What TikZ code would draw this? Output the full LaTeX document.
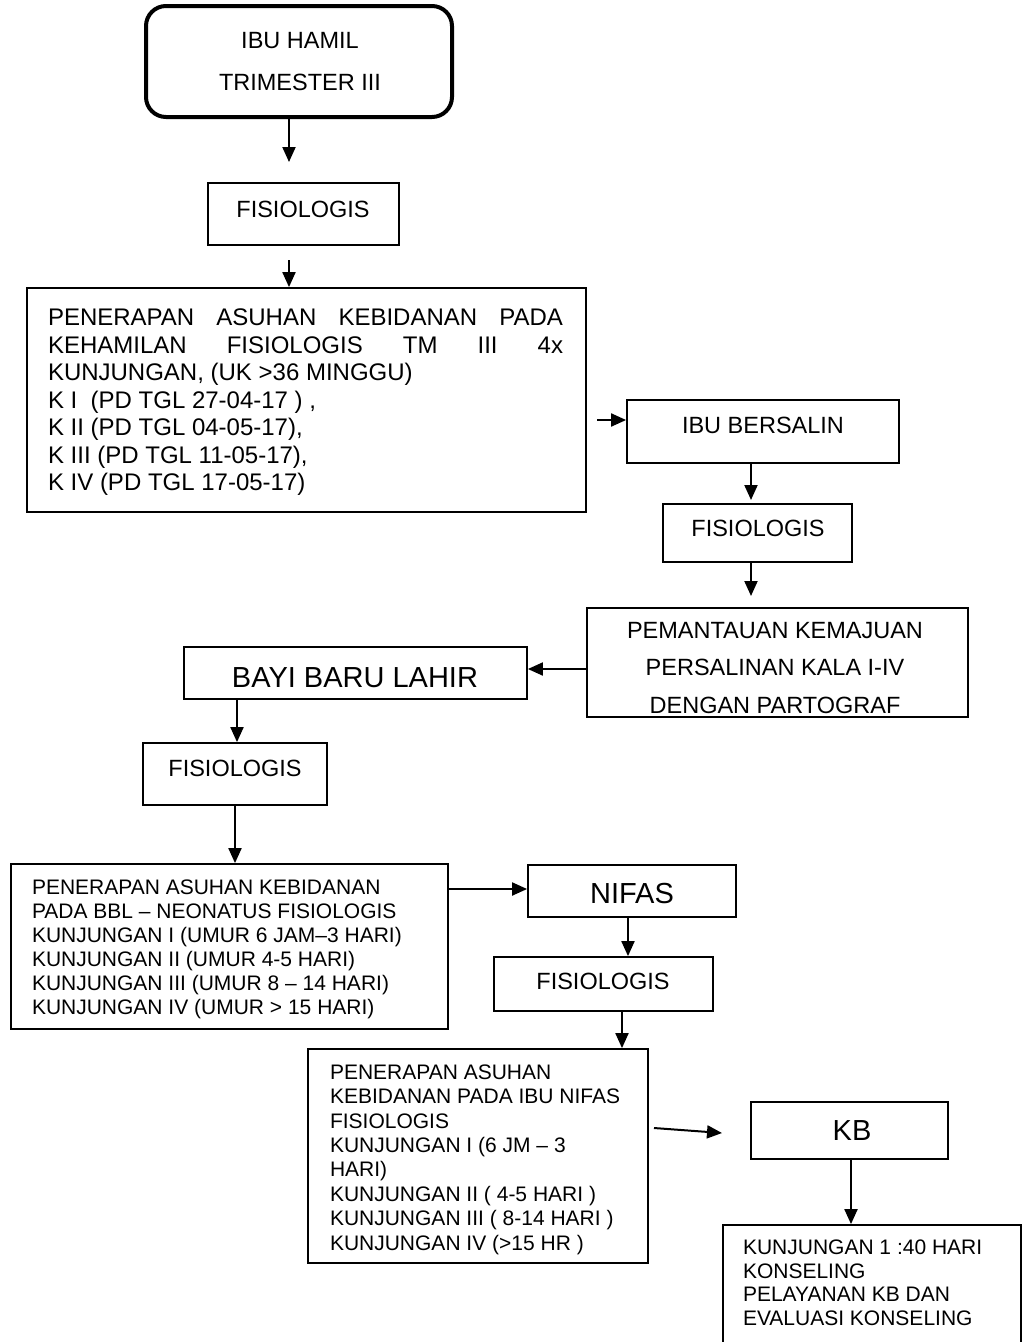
\documentclass[tikz,border=0pt]{standalone}
\usepackage{fontspec}
\setmainfont{Liberation Sans}
\usetikzlibrary{arrows.meta}
\begin{document}
\begin{tikzpicture}[x=1pt,y=-1pt,
  box/.style={draw, line width=1.8pt, inner sep=0pt, rectangle},
  txt/.style={inner sep=0pt, outer sep=0pt},
  arr/.style={line width=2pt, -{Triangle[width=13pt,length=15pt]}},
  mid/.style={font=\fontsize{23.5}{28}\selectfont},
  big/.style={font=\fontsize{29}{34}\selectfont}]
\useasboundingbox[fill=white] (0,0) rectangle (1027,1342);

% boxes
\node[box, line width=4pt, rounded corners=20pt, minimum width=306pt, minimum height=111pt] (hamil) at (299,61.5) {};
\node[box, minimum width=191pt, minimum height=62pt] (f1) at (303.5,214) {};
\node[box, minimum width=559pt, minimum height=224pt] (k1) at (306.5,400) {};
\node[box, minimum width=272pt, minimum height=63pt] (b1) at (763,431.5) {};
\node[box, minimum width=189pt, minimum height=58pt] (f2) at (757.5,533) {};
\node[box, minimum width=381pt, minimum height=109pt] (pem) at (777.5,662.5) {};
\node[box, minimum width=343pt, minimum height=52pt] (bayi) at (355.5,673) {};
\node[box, minimum width=184pt, minimum height=62pt] (f3) at (235,774) {};
\node[box, minimum width=437pt, minimum height=165pt] (k2) at (229.5,946.5) {};
\node[box, minimum width=208pt, minimum height=52pt] (nifas) at (632,891) {};
\node[box, minimum width=219pt, minimum height=54pt] (f4) at (603.5,984) {};
\node[box, minimum width=340pt, minimum height=214pt] (k3) at (478,1156) {};
\node[box, minimum width=197pt, minimum height=57pt] (kb) at (849.5,1130.5) {};
\node[box, minimum width=298pt, minimum height=124pt] (k4) at (872,1287) {};

% texts
\node[txt, anchor=base] (thamil) at (300,48.4) {\parbox[t]{290pt}{\centering\fontsize{23.5}{42}\selectfont IBU HAMIL\\TRIMESTER III}};
\node[txt, mid, anchor=base] (tf1) at (303,217.4) {FISIOLOGIS};
\node[txt, anchor=base west] (tk1) at (48,325.6) {\parbox[t]{515pt}{\raggedright\fontsize{24}{27.5}\selectfont
\makebox[515pt]{PENERAPAN\hfill ASUHAN\hfill KEBIDANAN\hfill PADA}\\
\makebox[515pt]{KEHAMILAN\hfill FISIOLOGIS\hfill TM\hfill III\hfill 4x}\\
KUNJUNGAN, (UK >36 MINGGU)\\
K I\ \ (PD TGL 27-04-17 ) ,\\
K II (PD TGL 04-05-17),\\
K III (PD TGL 11-05-17),\\
K IV (PD TGL 17-05-17)}};
\node[txt, mid, anchor=base] (tb1) at (763,433.4) {IBU BERSALIN};
\node[txt, mid, anchor=base] (tf2) at (758,536.4) {FISIOLOGIS};
\node[txt, anchor=base] (tpem) at (775,638.4) {\parbox[t]{375pt}{\centering\fontsize{23.5}{37.5}\selectfont PEMANTAUAN KEMAJUAN\\PERSALINAN KALA I-IV\\DENGAN PARTOGRAF}};
\node[txt, big, anchor=base] (tbayi) at (355,687.4) {BAYI BARU LAHIR};
\node[txt, mid, anchor=base] (tf3) at (235,776.4) {FISIOLOGIS};
\node[txt, anchor=base west] (tk2) at (32,894.5) {\parbox[t]{410pt}{\raggedright\fontsize{21}{24}\selectfont
PENERAPAN ASUHAN KEBIDANAN\\
PADA BBL – NEONATUS FISIOLOGIS\\
KUNJUNGAN I (UMUR 6 JAM–3 HARI)\\
KUNJUNGAN II (UMUR 4-5 HARI)\\
KUNJUNGAN III (UMUR 8 – 14 HARI)\\
KUNJUNGAN IV (UMUR > 15 HARI)}};
\node[txt, big, anchor=base] (tnifas) at (632,903.4) {NIFAS};
\node[txt, mid, anchor=base] (tf4) at (603,989.4) {FISIOLOGIS};
\node[txt, anchor=base west] (tk3) at (330,1079.3) {\parbox[t]{310pt}{\raggedright\fontsize{21}{24.4}\selectfont
PENERAPAN ASUHAN\\
KEBIDANAN PADA IBU NIFAS\\
FISIOLOGIS\\
KUNJUNGAN I (6 JM – 3\\
HARI)\\
KUNJUNGAN II ( 4-5 HARI )\\
KUNJUNGAN III ( 8-14 HARI )\\
KUNJUNGAN IV (>15 HR )}};
\node[txt, big, anchor=base] (tkb) at (852,1140.4) {KB};
\node[txt, anchor=base west] (tk4) at (743,1254.5) {\parbox[t]{270pt}{\raggedright\fontsize{21}{23.7}\selectfont
KUNJUNGAN 1 :40 HARI\\
KONSELING\\
PELAYANAN KB DAN\\
EVALUASI KONSELING}};

% connectors
\coordinate (p1) at (289,162);
\draw[arr] (hamil.south -| p1) -- (p1);
\coordinate (p2) at (289,260);
\draw[arr] (p2) -- (p2 |- k1.north);
\coordinate (p3) at (597,420);
\draw[arr] (p3) -- (p3 -| b1.west);
\coordinate (p4) at (751,500);
\draw[arr] (b1.south -| p4) -- (p4);
\coordinate (p5) at (751,596);
\draw[arr] (f2.south -| p5) -- (p5);
\coordinate (p6) at (0,669);
\draw[arr] (pem.west |- p6) -- (bayi.east |- p6);
\coordinate (p7) at (237,0);
\draw[arr] (bayi.south -| p7) -- (f3.north -| p7);
\coordinate (p8) at (235,0);
\draw[arr] (f3.south -| p8) -- (k2.north -| p8);
\coordinate (p9) at (0,889);
\draw[arr] (k2.east |- p9) -- (nifas.west |- p9);
\coordinate (p10) at (628,0);
\draw[arr] (nifas.south -| p10) -- (f4.north -| p10);
\coordinate (p11) at (622,0);
\draw[arr] (f4.south -| p11) -- (k3.north -| p11);
\coordinate (p12s) at (654,1128);
\coordinate (p12e) at (722,1133);
\draw[arr] (p12s) -- (p12e);
\coordinate (p13) at (851,0);
\draw[arr] (kb.south -| p13) -- (k4.north -| p13);
\end{tikzpicture}
\end{document}
